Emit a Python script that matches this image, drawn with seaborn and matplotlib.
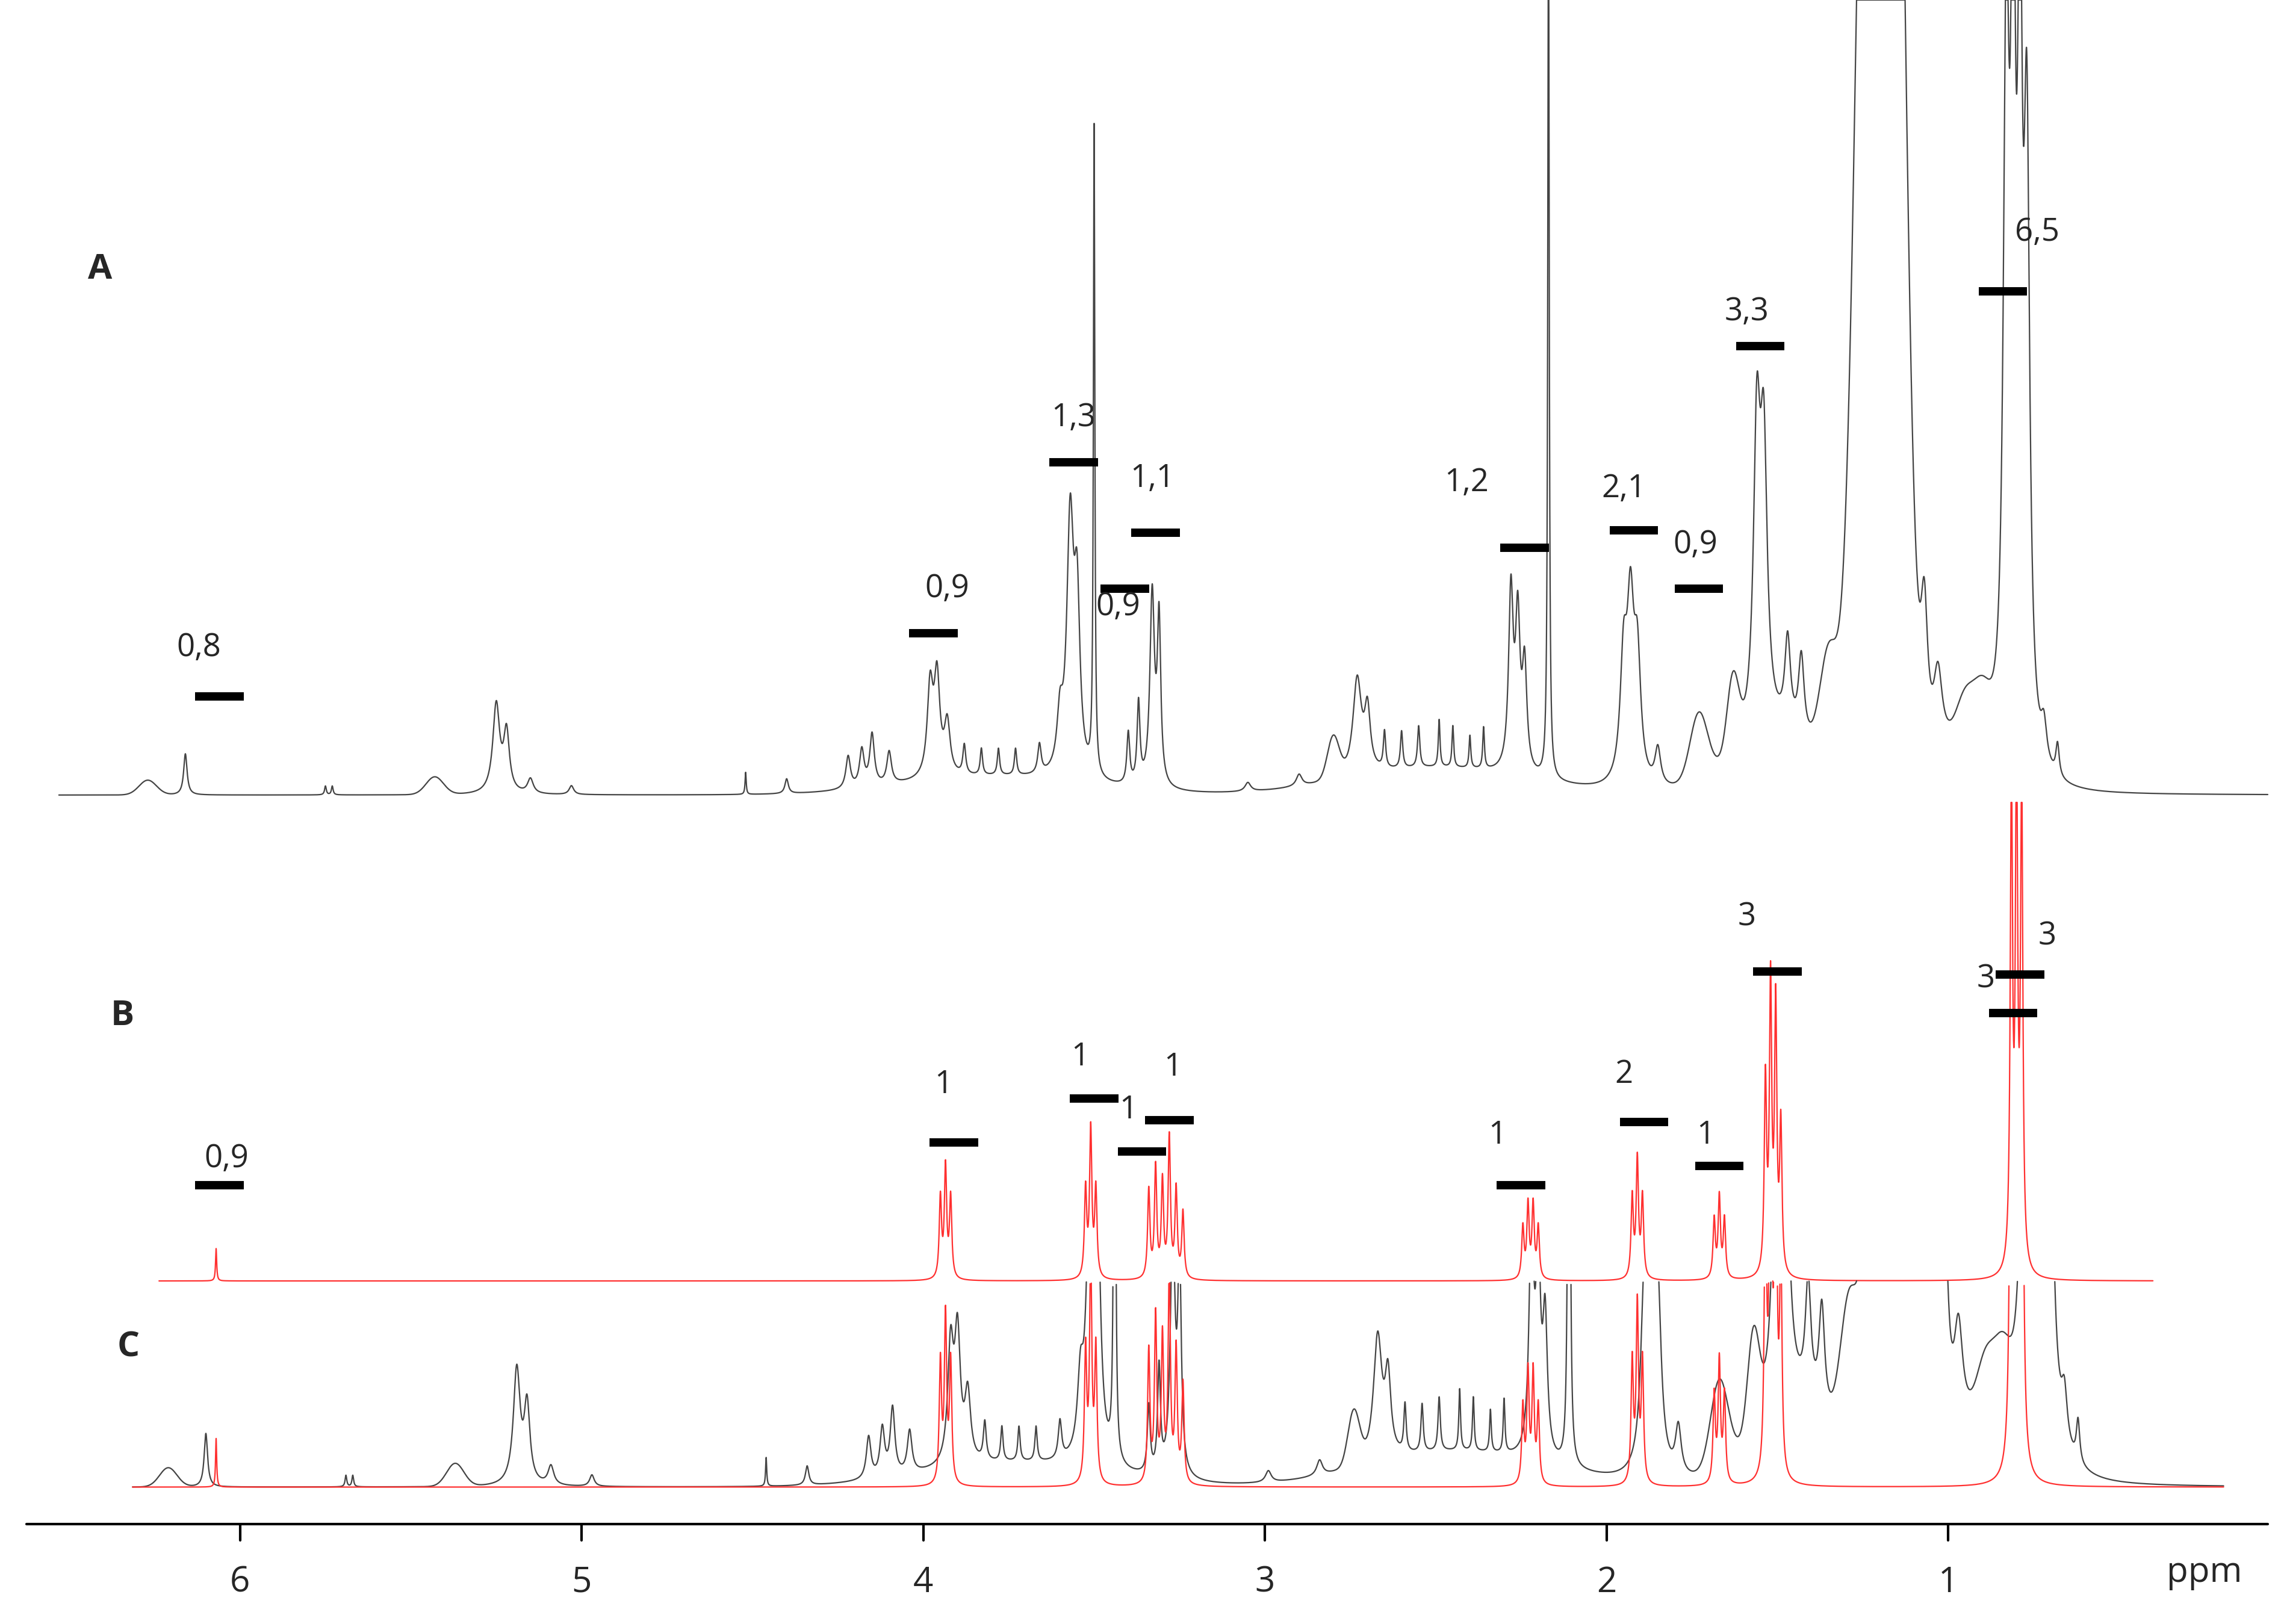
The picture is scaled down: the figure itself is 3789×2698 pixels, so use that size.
import numpy as np
import matplotlib
matplotlib.use("Agg")
import matplotlib.pyplot as plt
import seaborn as sns

sns.set_style("white")
plt.rcParams['font.family'] = ['Open Sans', 'DejaVu Sans']

# ---- Data: peak lists (ppm, height, half-width) ----
A_ppm = [6.27, 6.16, 5.75, 5.73, 5.43, 5.25, 5.22, 5.15, 5.03, 4.52, 4.40, 4.22, 4.18, 4.15, 4.10, 3.98, 3.96, 3.93,
         3.88, 3.83, 3.78, 3.73, 3.66, 3.60, 3.57, 3.55, 3.50, 3.40, 3.37, 3.33, 3.31, 3.05, 2.90, 2.80, 2.73, 2.70, 2.65,
         2.60, 2.55, 2.49, 2.45, 2.40, 2.36, 2.28, 2.26, 2.24, 2.17, 1.95, 1.93, 1.91, 1.85, 1.73, 1.63, 1.56, 1.54,
         1.47, 1.43, 1.35, 1.22, 1.16, 1.07, 1.03, 0.95, 0.90, 0.83, 0.81, 0.79, 0.77, 0.72, 0.68,
         3.80, 2.50, 1.50, 1.00]
A_h = [10, 28, 6, 6, 12, 60, 40, 10, 6, 15, 10, 22, 25, 35, 22, 60, 65, 35,
       20, 18, 18, 18, 20, 35, 170, 110, 440, 35, 55, 130, 110, 6, 8, 28, 65, 40, 25,
       25, 28, 32, 28, 22, 28, 120, 100, 70, 620, 80, 110, 80, 25, 45, 50, 200, 180,
       60, 55, 70, 1000, 700, 90, 50, 30, 35, 480, 500, 470, 400, 25, 22,
       12, 18, 40, 30]
A_w = [0.03, 0.006, 0.003, 0.003, 0.03, 0.012, 0.01, 0.01, 0.008, 0.002, 0.006, 0.008, 0.008, 0.008, 0.008, 0.01, 0.01, 0.01,
       0.005, 0.004, 0.004, 0.004, 0.006, 0.01, 0.012, 0.01, 0.0025, 0.005, 0.005, 0.008, 0.006, 0.01, 0.01, 0.02, 0.015, 0.01, 0.004,
       0.004, 0.004, 0.003, 0.003, 0.003, 0.003, 0.008, 0.008, 0.008, 0.0025, 0.012, 0.012, 0.012, 0.01, 0.03, 0.02, 0.012, 0.012,
       0.01, 0.01, 0.03, 0.05, 0.04, 0.012, 0.015, 0.03, 0.03, 0.01, 0.008, 0.008, 0.01, 0.01, 0.006,
       0.3, 0.3, 0.15, 0.15]

B_ppm = [6.07, 3.95, 3.935, 3.92, 3.525, 3.51, 3.495, 3.34, 3.32, 3.30, 3.28, 3.26, 3.24,
         2.245, 2.23, 2.215, 2.20, 1.925, 1.91, 1.895, 1.685, 1.67, 1.655, 1.535, 1.52, 1.505, 1.49, 0.815, 0.80, 0.785]
B_h = [22, 55, 75, 55, 60, 100, 60, 60, 75, 65, 95, 60, 45,
       35, 50, 50, 35, 55, 80, 55, 40, 55, 40, 130, 195, 180, 100, 330, 340, 330]
B_w = [0.002] + [0.004] * 29

C_shift = -0.06
C_scale = 1.3
C_clip = 140
RED_scale = 1.5

A_int_ppm = [6.06, 3.97, 3.56, 3.41, 3.32, 2.24, 1.92, 1.73, 1.55, 0.84]
A_int_y = [473, 430, 314, 400, 362, 372, 360, 400, 235, 198]
A_int_txt = ["0,8", "0,9", "1,3", "0,9", "1,1", "1,2", "2,1", "0,9", "3,3", "6,5"]
A_txt_ppm = [6.12, 3.93, 3.56, 3.43, 3.33, 2.41, 1.95, 1.74, 1.59, 0.74]
A_txt_y = [440, 400, 284, 412, 325, 328, 332, 370, 212, 158]

B_int_ppm = [6.06, 3.91, 3.50, 3.36, 3.28, 2.25, 1.89, 1.67, 1.50, 0.79, 0.81]
B_int_y = [805, 776, 746, 782, 761, 805, 762, 792, 660, 662, 688]
B_int_txt = ["0,9", "1", "1", "1", "1", "1", "2", "1", "3", "3", "3"]
B_txt_ppm = [6.04, 3.94, 3.54, 3.40, 3.27, 2.32, 1.95, 1.71, 1.59, 0.71, 0.89]
B_txt_y = [787, 737, 718, 754, 725, 771, 730, 771, 623, 636, 665]

ticks = [6, 5, 4, 3, 2, 1]

# ---- geometry ----
W, H = 1549, 1103
def ppm(xpix):
    return 6 - (xpix - 163) / 232.0

def spec(x, p, h, w, scale=1.0, shift=0.0):
    y = np.zeros_like(x)
    for pp, hh, ww in zip(p, h, w):
        dx = x - (pp + shift)
        if ww >= 0.02:
            y += scale * hh * np.exp(-np.log(2) * (dx / ww) ** 2)
        else:
            y += scale * hh * ww**2 / (dx**2 + ww**2)
    return y

fig = plt.figure(figsize=(37.89, 26.98), dpi=100)
ax = fig.add_axes([0, 0, 1, 1])
ax.set_xlim(ppm(0), ppm(W))
ax.set_ylim(0, H)
ax.axis("off")

lw = 1.6
xa = np.linspace(ppm(40), ppm(1540), 40000)
ya = spec(xa, A_ppm, A_h, A_w)
ax.plot(xa, (H - 540) + np.minimum(ya, 540), color="#444444", lw=lw)

xb = np.linspace(ppm(108), ppm(1462), 40000)
yb = spec(xb, B_ppm, B_h, B_w)
ax.plot(xb, (H - 870) + np.minimum(yb, 325), color="#ff3030", lw=lw)

xc = np.linspace(ppm(90), ppm(1510), 40000)
yc = spec(xc, A_ppm, A_h, A_w, scale=C_scale, shift=C_shift)
yc = np.where(yc > C_clip, np.nan, yc)
ax.plot(xc, (H - 1010) + yc, color="#444444", lw=lw)
yr = spec(xc, B_ppm, B_h, B_w, scale=RED_scale)
yr = np.where(yr > C_clip, np.nan, yr)
ax.plot(xc, (H - 1010) + yr, color="#ff3030", lw=lw)

fs = 38
bar_half = 16.5 / 232.0
for p, yy, t, tp, ty in zip(A_int_ppm, A_int_y, A_int_txt, A_txt_ppm, A_txt_y):
    ax.plot([p + bar_half, p - bar_half], [H - yy, H - yy], color="black", lw=10, solid_capstyle="butt")
    ax.text(tp, H - ty, t, fontsize=fs, ha="center", va="center")
for p, yy, t, tp, ty in zip(B_int_ppm, B_int_y, B_int_txt, B_txt_ppm, B_txt_y):
    ax.plot([p + bar_half, p - bar_half], [H - yy, H - yy], color="black", lw=10, solid_capstyle="butt")
    ax.text(tp, H - ty, t, fontsize=fs, ha="center", va="center")

for lab, xp, yp in [("A", 68, 183), ("B", 83, 690), ("C", 87, 915)]:
    ax.text(ppm(xp), H - yp, lab, fontsize=42, fontweight="bold", ha="center", va="center")

ax.plot([ppm(18), ppm(1540)], [H - 1035, H - 1035], color="black", lw=3)
for t in ticks:
    ax.plot([t, t], [H - 1035, H - 1046], color="black", lw=3)
    ax.text(t, H - 1075, str(t), fontsize=42, ha="center", va="center")
ax.text(ppm(1497), H - 1068, "ppm", fontsize=42, ha="center", va="center")

fig.savefig("out.png", dpi=100, facecolor="white")
